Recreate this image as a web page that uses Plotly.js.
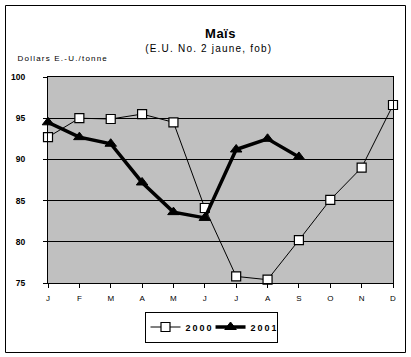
<!DOCTYPE html>
<html>
<head>
<meta charset="utf-8">
<script src="https://cdn.plot.ly/plotly-3.0.1.min.js"></script>
<style>
html,body{margin:0;padding:0;background:#fff;}
#chart{width:411px;height:357px;}
#chart .annotation-text{letter-spacing:1.2px;}
#chart .legendtext{letter-spacing:2px;}
#chart .gtitle{letter-spacing:0.5px;}
</style>
</head>
<body>
<div id="chart"></div>
<script>
const months = ["J","F","M","A","M","J","J","A","S","O","N","D"];
const values2000 = [92.7, 95.0, 94.9, 95.5, 94.5, 84.1, 75.8, 75.4, 80.2, 85.1, 89.0, 96.6];
const values2001 = [94.5, 92.7, 91.9, 87.2, 83.6, 82.9, 91.2, 92.5, 90.3];
const yTicks = [75, 80, 85, 90, 95, 100];
const yTickText = ["75", "80", "85", "90", "95", "100"];

const xIdx = months.map((m, i) => i);
const font = "Liberation Sans, Arial, sans-serif";

const traces = [
  {
    x: xIdx, y: values2000, name: "2000", type: "scatter", mode: "lines+markers", cliponaxis: false,
    line: {color: "#000", width: 1},
    marker: {symbol: "square", size: 9, color: "#fff", line: {color: "#000", width: 1.2}}
  },
  {
    x: xIdx.slice(0, values2001.length), y: values2001, name: "2001", type: "scatter", mode: "lines+markers", cliponaxis: false,
    line: {color: "#000", width: 3.5},
    marker: {symbol: "triangle-up", size: 10, color: "#000", line: {color: "#000", width: 1}}
  }
];

const plotL = 48, plotR = 393, plotT = 77, plotB = 283;
const W = plotR - plotL, H = plotB - plotT;
const px = v => (v - plotL) / W;
const py = v => (plotB - v) / H;

const layout = {
  width: 411, height: 357,
  margin: {l: plotL, r: 411 - plotR, t: plotT, b: 357 - plotB, pad: 0},
  paper_bgcolor: "#fff",
  plot_bgcolor: "#c0c0c0",
  showlegend: true,
  font: {family: font, color: "#000", size: 8},
  title: {
    text: "<b>Maïs</b>", x: 0.5, xref: "paper", y: 1 - 33/357, yanchor: "middle",
    font: {family: font, size: 13, color: "#000"}
  },
  xaxis: {
    range: [0, 11], tickvals: xIdx, ticktext: months,
    showgrid: false, zeroline: false, showline: true, linecolor: "#000", linewidth: 1, mirror: true,
    ticks: "outside", ticklen: 4, tickcolor: "#000", ticklabelstandoff: 3,
    tickfont: {family: font, size: 8, color: "#000"}, fixedrange: true
  },
  yaxis: {
    range: [75, 100], tickvals: yTicks, ticktext: yTickText,
    showgrid: true, gridcolor: "#000", gridwidth: 1, zeroline: false,
    showline: true, linecolor: "#000", linewidth: 1, mirror: true,
    ticks: "outside", ticklen: 4, tickcolor: "#000", ticklabelstandoff: 16,
    tickfont: {family: font, size: 8.5, color: "#000", weight: "bold"}, fixedrange: true
  },
  legend: {
    orientation: "h", x: px(211), xanchor: "center", y: py(327), yanchor: "middle",
    bordercolor: "#000", borderwidth: 1, bgcolor: "#fff",
    font: {family: font, size: 9, color: "#000", weight: "bold"},
    itemwidth: 30, tracegroupgap: 0
  },
  annotations: [
    {
      text: "(E.U. No. 2 jaune, fob)", xref: "paper", yref: "paper",
      x: px(209), y: py(48), xanchor: "center", yanchor: "middle", showarrow: false,
      font: {family: font, size: 10, color: "#000"}
    },
    {
      text: "Dollars E.-U./tonne", xref: "paper", yref: "paper",
      x: px(63), y: py(58), xanchor: "center", yanchor: "middle", showarrow: false,
      font: {family: font, size: 8, color: "#000"}
    }
  ],
  shapes: [
    {
      type: "rect", xref: "paper", yref: "paper",
      x0: px(5.5), x1: px(405.5), y0: py(352.5), y1: py(5.5),
      line: {color: "#000", width: 1}, fillcolor: "rgba(0,0,0,0)", layer: "below"
    }
  ]
};

Plotly.newPlot("chart", traces, layout, {displayModeBar: false, staticPlot: true});
</script>
</body>
</html>
